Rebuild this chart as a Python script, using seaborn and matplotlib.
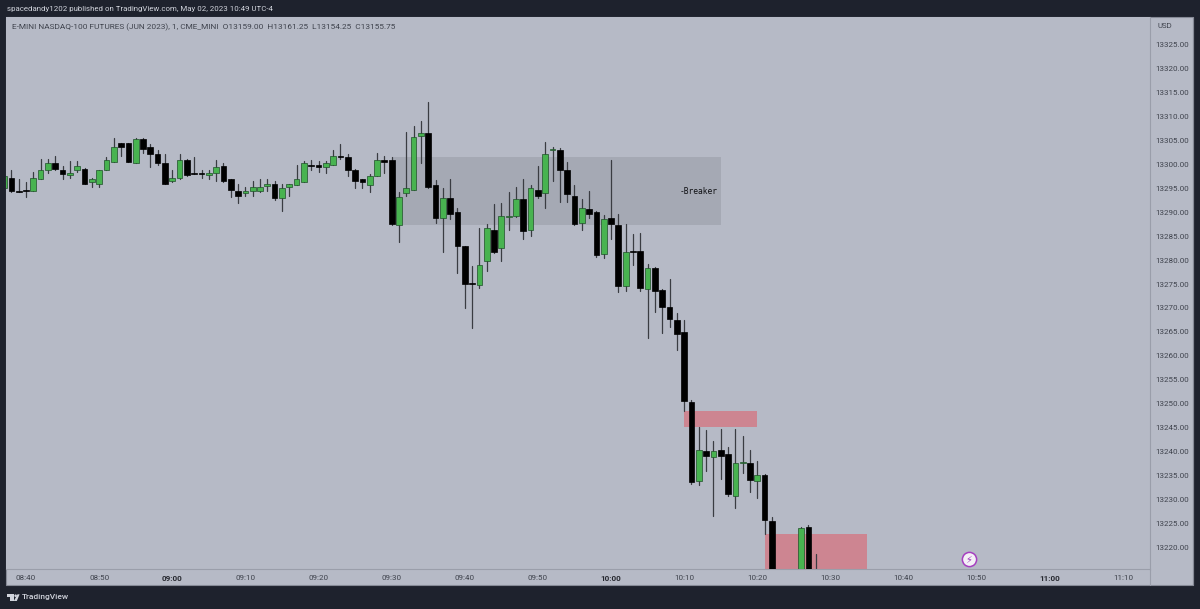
import pandas as pd
import matplotlib.pyplot as plt
from matplotlib.patches import Rectangle, Polygon, Circle
import seaborn as sns

# minutes after 08:40, one candle each (10:23-10:25 sit below the visible range)
minutes = list(range(-3, 103)) + [106, 107, 108]

opens = [13295, 13297.25, 13294.5, 13294.75, 13294.5, 13297, 13298.75, 13300.25, 13298.75, 13297.75,
         13298.75, 13299, 13296.25, 13296, 13298.75, 13300.5, 13304.5, 13304.5, 13300.25, 13305.25,
         13303.75, 13302.25, 13300.25, 13296.5, 13297.25, 13301, 13298.25, 13298.25, 13297.75, 13298.25,
         13299.75, 13297, 13294.5, 13294, 13294.5, 13294.5, 13295.5, 13296, 13293, 13295.25,
         13295.75, 13296.25, 13300, 13300, 13299.5, 13300, 13301.75, 13301.5, 13298.75, 13297,
         13295.75, 13297.5, 13301, 13301, 13287.25, 13294, 13294.75, 13306, 13306.5, 13295.75,
         13288.75, 13293, 13290, 13283, 13275.25, 13274.75, 13279.75, 13286.25, 13282.5, 13289,
         13289.25, 13292.75, 13286.25, 13294.75, 13294, 13303, 13303, 13298.75, 13293.5, 13287.75,
         13290.75, 13290, 13281.25, 13288.75, 13287.25, 13274.5, 13282, 13282, 13274, 13278.25,
         13273.75, 13270.25, 13267.5, 13265, 13250.25, 13233.75, 13240, 13238.75, 13240.25, 13239.5,
         13230.75, 13237.5, 13237.5, 13233.75, 13235, 13225.5, 13212, 13224.25, 13215]
highs = [13297.75, 13298.75, 13297, 13296.25, 13298.5, 13301.25, 13301.25, 13301.75, 13299.75, 13300.75,
         13300.75, 13299.25, 13297.25, 13298.75, 13301.5, 13305.5, 13304.5, 13304.5, 13305.5, 13305.5,
         13304.25, 13303, 13302.25, 13298.75, 13302.25, 13301.25, 13301.5, 13298.75, 13298.75, 13301,
         13300.25, 13297, 13296, 13295.25, 13296.5, 13297, 13297, 13296.5, 13296, 13296,
         13300, 13300.75, 13301, 13300.75, 13300.75, 13303, 13304.25, 13302.25, 13299, 13297,
         13298, 13302.5, 13301.75, 13301.5, 13294.25, 13306.75, 13308, 13309, 13313, 13296.75,
         13295, 13297, 13291, 13283, 13278.75, 13286.75, 13287.5, 13291.75, 13292, 13294.25,
         13295.25, 13297, 13295.75, 13299.75, 13304.75, 13303.75, 13303.5, 13300.5, 13295.75, 13292.75,
         13294.5, 13290.25, 13289.5, 13301, 13289.75, 13287.5, 13285.5, 13285.75, 13279.25, 13278.5,
         13274, 13276, 13269, 13267.5, 13250.75, 13245, 13244.5, 13242.25, 13244.75, 13241,
         13244.75, 13243.25, 13240.25, 13238, 13235.25, 13226.25, 13224.25, 13224.5, 13218.5]
lows = [13294.75, 13294.25, 13294.25, 13293.25, 13294.5, 13297, 13298.25, 13298.75, 13297, 13297.25,
        13298.5, 13296, 13295.25, 13295.25, 13298.75, 13300.5, 13301.75, 13300.5, 13300.25, 13302.5,
        13299.5, 13300, 13296, 13296.25, 13297, 13297.5, 13298, 13297.25, 13297, 13296.5,
        13296.25, 13293.25, 13292, 13293.5, 13293.5, 13294.25, 13294.5, 13292.5, 13290.25, 13293.5,
        13295.75, 13296.25, 13298.75, 13298.5, 13298.25, 13300, 13301.25, 13297.5, 13295, 13295,
        13294.25, 13297.5, 13298.25, 13287.25, 13283.75, 13293.5, 13294.75, 13300.25, 13295, 13287.75,
        13281.75, 13288.5, 13277.25, 13270, 13265.75, 13274.25, 13277.75, 13281.5, 13279.75, 13286.25,
        13289, 13284.5, 13285, 13293, 13291, 13296.5, 13292.25, 13292.25, 13287.25, 13286.25,
        13288.75, 13280.75, 13280.5, 13284.5, 13273.25, 13273.5, 13279, 13273.5, 13263.75, 13269.25,
        13264.75, 13266, 13261.25, 13248.5, 13233.25, 13233, 13236, 13226.5, 13234.25, 13230.75,
        13228.25, 13235.5, 13231.5, 13230.25, 13222.75, 13211, 13210, 13213, 13212]
closes = [13297.5, 13294.5, 13294.25, 13294.5, 13297.25, 13298.75, 13300.25, 13299, 13298, 13298.25,
          13299.75, 13296, 13297, 13298.75, 13301, 13303.75, 13303.75, 13300.5, 13305.25, 13303.25,
          13302.25, 13300.25, 13296, 13297.25, 13301, 13297.75, 13298, 13298, 13298.25, 13299.5,
          13296.5, 13294.75, 13293.5, 13294.5, 13295.25, 13295.25, 13296, 13293, 13295, 13296,
          13297, 13300.25, 13299.75, 13299.5, 13300.25, 13301.75, 13301.5, 13298.75, 13296.5, 13296.25,
          13297.5, 13301, 13300.5, 13287.5, 13293.25, 13295, 13305.75, 13306.5, 13295.25, 13288.75,
          13293, 13289.75, 13283, 13275, 13275, 13279, 13286.75, 13281.75, 13289.25, 13289.25,
          13292.75, 13286, 13295, 13293.5, 13302.25, 13303.25, 13298.75, 13293.75, 13287.5, 13291,
          13289.75, 13281, 13288.5, 13287.5, 13274.5, 13281.75, 13281.75, 13274.25, 13278.25, 13273.5,
          13270.25, 13267.75, 13264.5, 13250.5, 13233.5, 13240.25, 13239, 13240, 13239, 13231,
          13237.5, 13237.75, 13234, 13235, 13225.75, 13212, 13224, 13214, 13213]

price_ticks = list(range(13220, 13330, 5))
time_ticks = list(range(0, 160, 10))
time_labels = ['08:40', '08:50', '09:00', '09:10', '09:20', '09:30', '09:40', '09:50',
               '10:00', '10:10', '10:20', '10:30', '10:40', '10:50', '11:00', '11:10']
hour_labels = ['09:00', '10:00', '11:00']

legend_text = 'E-MINI NASDAQ-100 FUTURES (JUN 2023), 1, CME_MINI  O13159.00  H13161.25  L13154.25  C13155.75'
header_text = 'spacedandy1202 published on TradingView.com, May 02, 2023 10:49 UTC-4'

BG = '#b6bac6'
DARK = '#1e222d'
GREEN = '#48b350'
GREEN_EDGE = '#1f5029'
TEXT = '#3f434d'
PINK = '#cd8591'
ZONE = '#a5a9b4'

df = pd.DataFrame({'minute': minutes, 'open': opens, 'high': highs, 'low': lows, 'close': closes})
df['up'] = df['close'] > df['open']
df['bottom'] = df[['open', 'close']].min(axis=1)
df['height'] = (df['close'] - df['open']).abs()
wicks = df.melt(id_vars='minute', value_vars=['high', 'low'], value_name='price')

sns.set_theme(style='white')
plt.rcParams['font.family'] = ['Roboto', 'DejaVu Sans']

fig = plt.figure(figsize=(12, 6.09), dpi=100, facecolor=DARK)

# chrome in pixel coordinates
bg = fig.add_axes([0, 0, 1, 1], zorder=0)
bg.set_xlim(0, 1200)
bg.set_ylim(609, 0)
bg.axis('off')
bg.add_patch(Rectangle((6, 17), 1187, 568, fc=BG, ec='#868a96', lw=0.8))
bg.text(7, 8.5, header_text, color='#d1d4dc', fontsize=5.65, va='center', ha='left')
bg.text(1157, 26, 'USD', color=TEXT, fontsize=5.6, va='center', ha='left')
bg.text(22, 597.5, 'TradingView', color='#d1d4dc', fontsize=6.0, fontweight='medium', va='center', ha='left')
bg.add_patch(Polygon([(6.7, 594.3), (13.6, 594.3), (13.6, 601), (10.2, 601), (10.2, 597.2), (6.7, 597.2)], fc='#d1d4dc', lw=0))
bg.add_patch(Circle((15.6, 595.7), 1.3, fc='#d1d4dc', lw=0))
bg.add_patch(Polygon([(17.5, 594.3), (19.6, 594.3), (16.8, 601), (13.8, 601)], fc='#d1d4dc', lw=0))

ax = fig.add_axes([6 / 1200, 1 - 569 / 609, 1144 / 1200, 552 / 609], zorder=1)
ax.set_facecolor(BG)

# zones under the candles
ax.add_patch(Rectangle((50, 13287.25), 45, 14.25, fc=ZONE, lw=0, zorder=1))
ax.add_patch(Rectangle((90, 13245), 10, 3.5, fc=PINK, lw=0, zorder=1))
ax.add_patch(Rectangle((101, 13210), 14, 12.75, fc=PINK, lw=0, zorder=1))

sns.lineplot(data=wicks, x='minute', y='price', units='minute', estimator=None,
             color='#3a3c42', linewidth=0.9, ax=ax, legend=False, zorder=2)
for up, group in df.groupby('up'):
    ax.bar(group['minute'], group['height'], bottom=group['bottom'], width=0.78,
           color=GREEN if up else 'black', edgecolor=GREEN_EDGE if up else 'black',
           linewidth=0.5, zorder=3)

ax.text(94.6, 13294.4, '-Breaker', family='DejaVu Sans Mono', color='#0e0f12', fontsize=5.7,
        ha='right', va='center', zorder=4)

ax.scatter([128.9], [13217.4], s=105, fc='#f4f0f6', ec='#a63fc0', linewidth=1.1, zorder=5)
ax.text(128.9, 13217.3, '\u26a1', family='DejaVu Sans', color='#9c34b8', fontsize=7,
        ha='center', va='center', zorder=6)

ax.set_xlim(-2.735, 153.7)
ax.set_ylim(13215.4, 13330.85)
ax.set_xlabel('')
ax.set_ylabel('')

ax.yaxis.tick_right()
ax.set_yticks(price_ticks)
ax.set_yticklabels([f'{p:.2f}' for p in price_ticks])
ax.set_xticks(time_ticks)
ax.set_xticklabels(time_labels)
ax.tick_params(axis='y', length=0, pad=3.5, labelsize=5.8, labelcolor=TEXT)
ax.tick_params(axis='x', length=0, pad=4, labelsize=5.8, labelcolor=TEXT)
for lab in ax.get_xticklabels():
    if lab.get_text() in hour_labels:
        lab.set_color('#26282f')
        lab.set_fontweight('bold')

for spine in ['top', 'left']:
    ax.spines[spine].set_visible(False)
for spine in ['right', 'bottom']:
    ax.spines[spine].set_color('#9a9eaa')
    ax.spines[spine].set_linewidth(0.8)

ax.text(6 / 1144, 1 - 10 / 552, legend_text, transform=ax.transAxes, color=TEXT, fontsize=5.95,
        va='center', ha='left', zorder=6)

bg.plot([1193, 1193], [17, 585], color='#868a96', lw=0.8)
bg.plot([1150, 1150], [569, 585], color='#9a9eaa', lw=0.8)

fig.savefig('out.png', dpi=100, facecolor=DARK)
